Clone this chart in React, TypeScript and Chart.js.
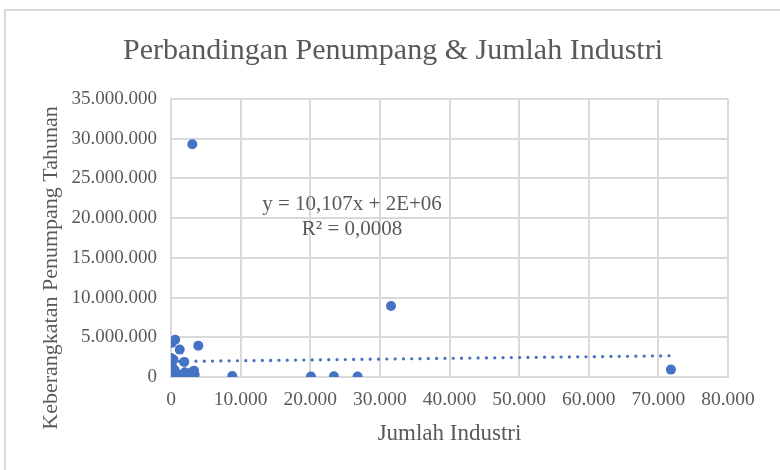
import { useEffect, useRef } from "react";
import { Chart, registerables } from "chart.js";

Chart.register(...registerables);

const TITLE = "Perbandingan Penumpang & Jumlah Industri";
const X_TITLE = "Jumlah Industri";
const Y_TITLE = "Keberangkatan Penumpang Tahunan";
const EQUATION_LINES = ["y = 10,107x + 2E+06", "R² = 0,0008"];
const EQUATION_ANCHOR = { x: 26000, y: 21700000 };

const industri = [
  3060, 31600, 71800, 3920, 100, 600, 1250, 0, 150, 350, 60, 1900,
  0, 300, 800, 1200, 1800, 2500, 3300, 3400, 2000, 500, 3000, 100,
  8800, 20100, 23400, 26800,
];
const penumpang = [
  29300000, 8930000, 930000, 3950000, 4300000, 4700000, 3450000, 2400000, 1900000, 2200000, 1500000, 1900000,
  200000, 100000, 450000, 100000, 150000, 200000, 800000, 300000, 600000, 900000, 600000, 50000,
  120000, 50000, 100000, 50000,
];

const TREND_SLOPE = 10.107;
const TREND_INTERCEPT = 1950000;
const TREND_X = [0, 71800];

const X_MAX = 80000;
const X_STEP = 10000;
const Y_MAX = 35000000;
const Y_STEP = 5000000;

const BLUE = "#4472C4";
const TEXT = "#595959";
const GRID = "#d9d9d9";
const FONT = "'Liberation Serif', 'Times New Roman', serif";

const fmt = (v: number) => String(Math.round(v)).replace(/\B(?=(\d{3})+(?!\d))/g, ".");

export default function App() {
  const ref = useRef<HTMLCanvasElement | null>(null);

  useEffect(() => {
    if (!ref.current) return;
    const textPlugin = {
      id: "texts",
      afterDraw(chart: any) {
        const { ctx, chartArea, scales } = chart;
        ctx.save();
        ctx.strokeStyle = GRID;
        ctx.lineWidth = 2;
        ctx.beginPath();
        ctx.moveTo(5, 480);
        ctx.lineTo(5, 10);
        ctx.lineTo(790, 10);
        ctx.stroke();
        ctx.fillStyle = TEXT;
        ctx.textAlign = "center";
        ctx.textBaseline = "middle";
        ctx.font = `30px ${FONT}`;
        ctx.fillText(TITLE, 393, 51);
        ctx.font = `23px ${FONT}`;
        ctx.fillText(X_TITLE, (chartArea.left + chartArea.right) / 2, 434);
        ctx.save();
        ctx.translate(51, 268);
        ctx.rotate(-Math.PI / 2);
        ctx.font = `22px ${FONT}`;
        ctx.fillText(Y_TITLE, 0, 0);
        ctx.restore();
        ctx.font = `21px ${FONT}`;
        const ax = scales.x.getPixelForValue(EQUATION_ANCHOR.x);
        const ay = scales.y.getPixelForValue(EQUATION_ANCHOR.y);
        ctx.fillText(EQUATION_LINES[0], ax, ay);
        ctx.fillText(EQUATION_LINES[1], ax, ay + 25);
        ctx.restore();
      },
    };

    const chart = new Chart(ref.current, {
      type: "scatter",
      data: {
        datasets: [
          {
            label: "Trendline",
            type: "line",
            data: TREND_X.map((x) => ({ x, y: TREND_SLOPE * x + TREND_INTERCEPT })),
            borderColor: BLUE,
            borderWidth: 3.2,
            borderDash: [0.1, 8.2],
            borderCapStyle: "round",
            pointRadius: 0,
            fill: false,
            order: 2,
          } as any,
          {
            label: "Data",
            data: industri.map((x, i) => ({ x, y: penumpang[i] })),
            backgroundColor: BLUE,
            borderColor: BLUE,
            pointRadius: 5,
            pointBorderWidth: 0,
            order: 1,
          },
        ],
      },
      options: {
        animation: false,
        responsive: false,
        layout: { padding: { left: 0, top: 99, right: 52, bottom: 0 } },
        plugins: {
          legend: { display: false },
          title: { display: false },
          tooltip: { enabled: false },
        },
        scales: {
          x: {
            type: "linear",
            min: 0,
            max: X_MAX,
            afterFit: (s: any) => {
              s.height = 93;
            },
            ticks: {
              stepSize: X_STEP,
              color: TEXT,
              font: { family: FONT, size: 19.5 },
              padding: 11,
              maxRotation: 0,
              callback: (v: any) => fmt(Number(v)),
            },
            grid: { color: GRID, lineWidth: 2, drawTicks: false },
            border: { color: GRID, width: 2 },
          },
          y: {
            type: "linear",
            min: 0,
            max: Y_MAX,
            afterFit: (s: any) => {
              s.width = 171;
            },
            ticks: {
              stepSize: Y_STEP,
              color: TEXT,
              font: { family: FONT, size: 19 },
              padding: 14,
              callback: (v: any) => fmt(Number(v)),
            },
            grid: { color: GRID, lineWidth: 2, drawTicks: false },
            border: { color: GRID, width: 2 },
          },
        },
      },
      plugins: [textPlugin],
    });
    return () => chart.destroy();
  }, []);

  return (
    <div style={{ position: "fixed", left: 0, top: 0, width: 780, height: 470, background: "#fff" }}>
      <canvas ref={ref} width={780} height={470} style={{ width: 780, height: 470, display: "block" }} />
    </div>
  );
}
